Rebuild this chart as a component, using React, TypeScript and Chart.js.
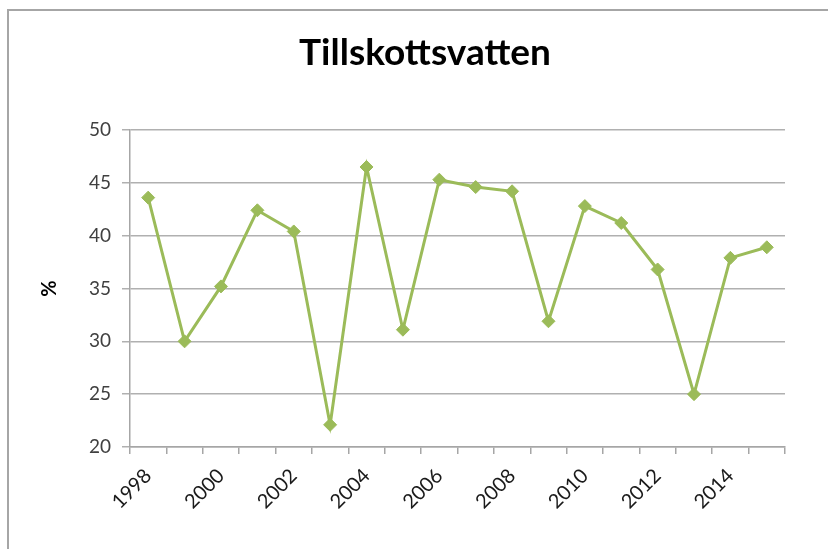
import React, { useEffect, useRef } from "react";
import { Chart, registerables } from "chart.js";

Chart.register(...registerables);

const years = ["1998","1999","2000","2001","2002","2003","2004","2005","2006","2007","2008","2009","2010","2011","2012","2013","2014","2015"];
const values = [43.6, 30.0, 35.2, 42.4, 40.4, 22.1, 46.5, 31.1, 45.3, 44.6, 44.2, 31.9, 42.8, 41.2, 36.8, 25.0, 37.9, 38.9];
const titleText = "Tillskottsvatten";
const yTitle = "%";

const titlePlugin = {
  id: "customTitle",
  afterDraw(chart: any) {
    const ctx = chart.ctx;
    ctx.save();
    ctx.font = "bold 37px Lato";
    ctx.fillStyle = "#000000";
    ctx.textAlign = "center";
    ctx.textBaseline = "alphabetic";
    ctx.fillText(titleText, 425, 65);
    ctx.restore();
  },
};

export default function App() {
  const ref = useRef<HTMLCanvasElement | null>(null);
  useEffect(() => {
    if (!ref.current) return;
    const chart = new Chart(ref.current, {
      type: "line",
      data: {
        labels: years,
        datasets: [
          {
            data: values,
            borderColor: "#9bbb59",
            backgroundColor: "#9bbb59",
            borderWidth: 3,
            pointStyle: "rectRot",
            pointRadius: 6.5,
            pointBorderWidth: 1,
            pointBorderColor: "#9bbb59",
            pointBackgroundColor: "#9bbb59",
            tension: 0,
          },
        ],
      },
      plugins: [titlePlugin],
      options: {
        animation: false,
        responsive: false,
        layout: { padding: { left: 0, right: 43, top: 130, bottom: 0 } },
        plugins: {
          legend: { display: false },
          tooltip: { enabled: false },
          title: { display: false },
        },
        scales: {
          x: {
            type: "category",
            offset: true,
            grid: {
              display: true,
              offset: true,
              drawOnChartArea: false,
              drawTicks: true,
              tickLength: 7,
              color: "#a6a6a6",
              lineWidth: 1.5,
            },
            border: { display: true, color: "#a6a6a6", width: 1.5 },
            ticks: {
              autoSkip: false,
              maxRotation: 45,
              minRotation: 45,
              padding: 10,
              color: "#1a1a1a",
              font: { family: "Lato", size: 20 },
              callback: function (_v: any, i: number) {
                return i % 2 === 0 ? years[i] : "";
              },
            },
            afterFit: (s: any) => {
              s.height = 102;
            },
          },
          y: {
            min: 20,
            max: 50,
            ticks: {
              stepSize: 5,
              padding: 11,
              color: "#404040",
              font: { family: "Lato", size: 19 },
            },
            grid: {
              color: "#b0b0b0",
              lineWidth: 1.5,
              drawTicks: true,
              tickLength: 8,
            },
            border: { display: true, color: "#a6a6a6", width: 1.5 },
            title: {
              display: true,
              text: yTitle,
              color: "#000000",
              font: { family: "Lato", size: 20, weight: "bold" },
              padding: { top: 38, bottom: 0 },
            },
            afterFit: (s: any) => {
              s.width = 130;
            },
          },
        },
      },
    });
    return () => chart.destroy();
  }, []);
  return (
    <div style={{ position: "absolute", left: 0, top: 0, width: 828, height: 549, background: "#ffffff", overflow: "hidden" }}>
      <div
        style={{
          position: "absolute",
          left: 7,
          top: 9,
          width: 900,
          height: 700,
          borderLeft: "2px solid #a6a6a6",
          borderTop: "2px solid #a6a6a6",
        }}
      />
      <canvas ref={ref} width={828} height={549} style={{ position: "absolute", left: 0, top: 0 }} />
    </div>
  );
}
